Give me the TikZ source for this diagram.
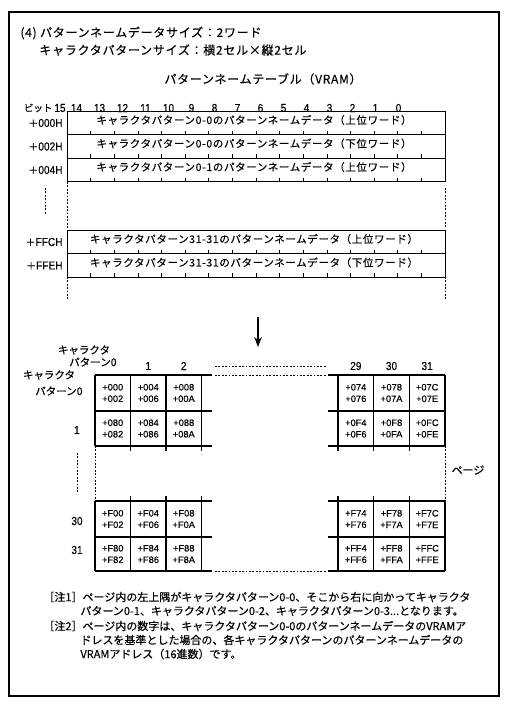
\documentclass[tikz,border=0pt]{standalone}
\usepackage{fontspec}
\setmainfont{Noto Sans CJK JP}[FakeBold=0.3]
\newfontfamily\widejp{Noto Sans CJK JP}[LetterSpace=6, FakeBold=0.3]
\newfontfamily\hexfont{Liberation Sans}[FakeBold=0.3]
\newfontfamily\numfont{Liberation Sans}[FakeStretch=0.88, FakeBold=0.3]
\usetikzlibrary{positioning, arrows.meta}
\tikzset{
	jptext/.style={font=\fontsize{11}{13}\selectfont, inner sep=0pt}
}
\tikzset{
	headtext/.style={font=\widejp\fontsize{12}{14}\selectfont, inner sep=0pt}
}
\tikzset{
	rowtext/.style={font=\widejp\fontsize{10.5}{12}\selectfont, inner sep=0pt}
}
\tikzset{
	numtext/.style={font=\numfont\fontsize{11.5}{13}\selectfont, inner sep=0pt}
}
\tikzset{
	hextext/.style={font=\hexfont\fontsize{9.3}{11.5}\selectfont, inner sep=0pt, align=center}
}
\tikzset{
	dotline/.style={line width=0.8pt, dash pattern=on 1.8pt off 1.6pt}
}

\begin{document}
\begin{tikzpicture}[x=1pt, y=-1pt, line width=0.9pt]
  \useasboundingbox (0,0) rectangle (508,707);
  % outer frame
  \draw[line width=1.5pt] (9,12) rectangle (499,696);
  % heading
  \node[headtext, anchor=west] (head) at (20,33) {(4) パターンネームデータサイズ：2ワード};
  \node[headtext, anchor=west] (subhead) at (39,50) {キャラクタパターンサイズ：横2セル×縦2セル};
  \node[headtext] (tbltitle) at (263,79) {パターンネームテーブル（VRAM）};
  % bit numbers
  \node[numtext] (bit15) at (60,108) {15};
  \node[jptext, font=\fontsize{9.5}{11}\selectfont, left=1pt of bit15] (bitword) {ビット};
  \foreach \b in {0,...,14}
    \node[numtext] (bit\b) at ({76.5+(14-\b)*23.0},108) {\b};
  % table words
  \foreach \nm/\ry/\ad/\tx in {
      w0/111/000/キャラクタパターン0-0のパターンネームデータ（上位ワード）,
      w1/134.5/002/キャラクタパターン0-0のパターンネームデータ（下位ワード）,
      w2/158/004/キャラクタパターン0-1のパターンネームデータ（上位ワード）,
      wfc/230/FFC/キャラクタパターン31-31のパターンネームデータ（上位ワード）,
      wfe/253.5/FFE/キャラクタパターン31-31のパターンネームデータ（下位ワード）}
  {
    \draw (67,\ry) rectangle (445,{\ry+23.5});
    \foreach \k in {1,...,15}
      \draw[line width=0.6pt] ({67+\k*23.625},{\ry+23.5}) -- ++(0,-4);
    \node[rowtext] (txt\nm) at (254,{\ry+9}) {\tx};
    \node[numtext, anchor=east] (adr\nm) at (63,{\ry+12}) {{\normalfont\fontsize{10}{12}\selectfont ＋}\ad H};
  }
  % gaps in the table
  \draw[dotline] (67,182) -- (67,228);
  \draw[dotline] (445,188) -- (445,228);
  \draw[dotline] (45,188) -- (45,215);
  \draw[dotline] (67,277) -- (67,300);
  \draw[dotline] (445,277) -- (445,300);

  % arrow down to page
  \coordinate (arrtop) at (258,317);
  \coordinate (arrbot) at (258,347);
  \draw[line width=1.1pt, -{Stealth[length=10pt, width=7.5pt]}] (arrtop) -- (arrbot);

  % page grid
  \begin{scope}[line width=1.1pt]
    \foreach \gy in {375,411,446,501,537,571} {
      \draw (95,\gy) -- (212,\gy);
      \draw (328,\gy) -- (445,\gy);
    }
    \foreach \gx in {130.5,166,201.5,338,373.7,409.3} {
      \draw (\gx,375) -- (\gx,451);
      \draw (\gx,496) -- (\gx,571);
    }
    \foreach \gx in {95,445} {
      \draw (\gx,375) -- (\gx,446);
      \draw (\gx,501) -- (\gx,571);
    }
  \end{scope}
  \draw[dotline] (215,366) -- (327,366);
  \draw[dotline] (215,375) -- (327,375);
  \draw[dotline] (215,571) -- (327,571);
  \draw[dotline] (95,446) -- (95,501);
  \draw[dotline] (445,446) -- (445,501);
  \draw[dotline] (77,453) -- (77,493);

  % page labels
  \node[jptext, font=\fontsize{10.5}{12}\selectfont] (colhead) at (84,350) {キャラクタ};
  \node[jptext, font=\fontsize{10.5}{12}\selectfont, anchor=east] (colzero) at (117,362) {パターン0};
  \foreach \lb/\lx in {1/148.25, 2/183.75, 29/355.85, 30/391.5, 31/427.15}
    \node[numtext] (col\lb) at (\lx,366) {\lb};
  \node[jptext, font=\fontsize{10.5}{12}\selectfont] (rowhead) at (49,375) {キャラクタ};
  \node[jptext, font=\fontsize{10.5}{12}\selectfont, anchor=east] (rowzero) at (83,391) {パターン0};
  \foreach \lb/\ly in {1/430, 30/521, 31/550}
    \node[numtext] (row\lb) at (77,\ly) {\lb};
  \node[jptext] (pagelbl) at (468,470) {ページ};

  % cell addresses
  \foreach \cx/\cy/\ha/\hb [count=\n] in {
      112.75/393/000/002, 148.25/393/004/006, 183.75/393/008/00A,
      355.85/393/074/076, 391.5/393/078/07A, 427.15/393/07C/07E,
      112.75/428.5/080/082, 148.25/428.5/084/086, 183.75/428.5/088/08A,
      355.85/428.5/0F4/0F6, 391.5/428.5/0F8/0FA, 427.15/428.5/0FC/0FE,
      112.75/519/F00/F02, 148.25/519/F04/F06, 183.75/519/F08/F0A,
      355.85/519/F74/F76, 391.5/519/F78/F7A, 427.15/519/F7C/F7E,
      112.75/554/F80/F82, 148.25/554/F84/F86, 183.75/554/F88/F8A,
      355.85/554/FF4/FF6, 391.5/554/FF8/FFA, 427.15/554/FFC/FFE}
    \node[hextext] (cell\n) at (\cx,\cy) {+\ha\\+\hb};

  % notes
  \node[jptext, anchor=west] (noteA) at (43,597) {［注1］ページ内の左上隅がキャラクタパターン0-0、そこから右に向かってキャラクタ};
  \node[jptext, anchor=west] (noteAb) at (80,611) {パターン0-1、キャラクタパターン0-2、キャラクタパターン0-3...となります。};
  \node[jptext, anchor=west] (noteB) at (43,626) {［注2］ページ内の数字は、キャラクタパターン0-0のパターンネームデータのVRAMア};
  \node[jptext, anchor=west] (noteBb) at (80,640) {ドレスを基準とした場合の、各キャラクタパターンのパターンネームデータの};
  \node[jptext, anchor=west] (noteBc) at (80,654) {VRAMアドレス（16進数）です。};
\end{tikzpicture}
\end{document}
